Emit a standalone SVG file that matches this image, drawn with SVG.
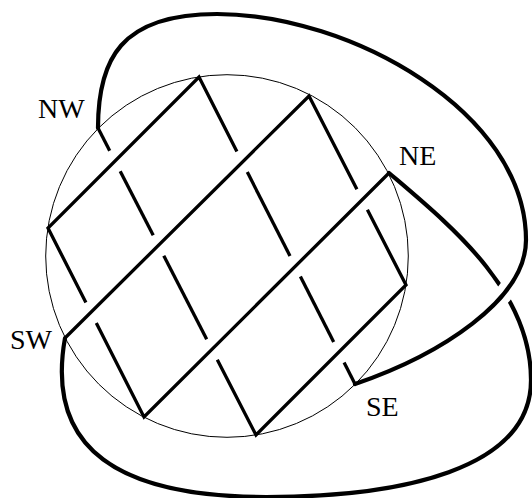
<svg xmlns="http://www.w3.org/2000/svg" width="532" height="498" viewBox="0 0 532 498">
<style>
.ln{fill:none;stroke:#000;stroke-width:3.3;stroke-linejoin:miter;stroke-linecap:butt}
.cv{fill:none;stroke:#000;stroke-width:4.2;stroke-linecap:round}
.lbl{font-family:"Liberation Serif","DejaVu Serif",serif;font-size:28px;fill:#000}
</style>
<defs>
<mask id="gap" maskUnits="userSpaceOnUse" x="0" y="0" width="532" height="498">
<rect x="0" y="0" width="532" height="498" fill="#fff"/>
<path d="M98,128 C98,60 120,14 217,14 C350,14 526,112 526,240 C526,300 440,355 355,384" fill="none" stroke="#000" stroke-width="18"/>
</mask>
</defs>
<rect width="532" height="498" fill="#fff"/>
<circle id="disk" cx="227" cy="256" r="181.3" fill="none" stroke="#000" stroke-width="1"/>
<g id="strands">
<path class="ln" d="M85.9,302.6 L48,228 L199,77 L236.9,151.6"/>
<path class="ln" d="M247.3,172.1 L290.0,256.0"/>
<path class="ln" d="M300.4,276.5 L333.7,341.9"/>
<path class="ln" d="M344.1,362.4 L355,384"/>
<path class="ln" d="M96.3,323.1 L144,417 L389,173"/>
<path class="ln" d="M65,338 L309,96 L356.9,189.3"/>
<path class="ln" d="M367.4,209.8 L406,285 L256,435 L217.3,359.7"/>
<path class="ln" d="M206.7,339.2 L163.8,255.8"/>
<path class="ln" d="M153.2,235.3 L120.2,171.2"/>
<path class="ln" d="M109.7,150.8 L98,128"/>
</g>
<g id="closures">
<path id="arcNW-SE" class="cv" d="M98,128 C98,60 120,14 217,14 C350,14 526,112 526,240 C526,300 440,355 355,384"/>
<path id="arcNE-SW" class="cv" mask="url(#gap)" d="M389,173 C450,225 531,290 531,380 C531,470 400,497 266,497 C120,497 45,450 65,338"/>
</g>
<g id="labels">
<text class="lbl" x="38" y="118">NW</text>
<text class="lbl" x="399" y="165">NE</text>
<text class="lbl" x="10" y="349">SW</text>
<text class="lbl" x="366" y="416">SE</text>
</g>
</svg>
